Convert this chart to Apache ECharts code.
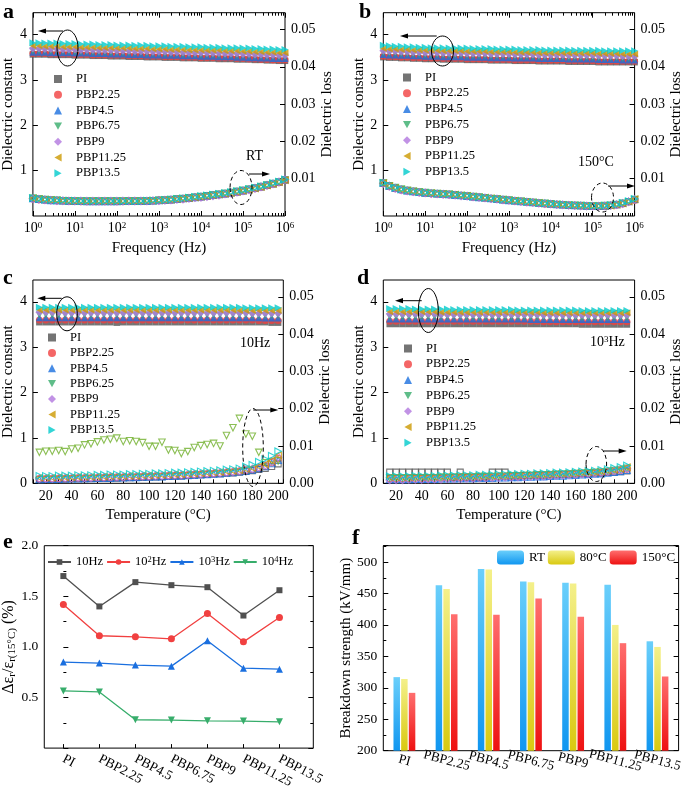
<!DOCTYPE html>
<html><head><meta charset="utf-8">
<script src="https://cdn.jsdelivr.net/npm/echarts@6/dist/echarts.min.js"></script>
<style>html,body{margin:0;padding:0;background:#fff}#c{width:685px;height:791px}</style>
</head><body><div id="c"></div>
<script>
// ---------------- DATA ----------------
const namesAB = ['PI','PBP2.25','PBP4.5','PBP6.75','PBP9','PBP11.25','PBP13.5'];
const namesCD = ['PI','PBP2.25','PBP4.5','PBP6.25','PBP9','PBP11.25','PBP13.5'];
const freqHz = [1,1.39,1.93,2.68,3.73,5.18,7.2,10,13.9,19.3,26.8,37.3,51.8,72,100,139,193,268,373,518,720,1000,1390,1930,2680,3730,5180,7200,10000,13900,19300,26800,37300,51800,72000,100000,139000,193000,268000,373000,518000,720000,1000000];
const freqMajor = [1,10,100,1000,10000,100000,1000000];
const tempC = [15,20,25,30,35,40,45,50,55,60,65,70,75,80,85,90,95,100,105,110,115,120,125,130,135,140,145,150,155,160,165,170,175,180,185,190,195,200];

// panel a : RT, dielectric constant
const aPI    = [3.56,3.56,3.56,3.55,3.55,3.55,3.55,3.54,3.54,3.54,3.53,3.53,3.53,3.52,3.52,3.52,3.51,3.51,3.51,3.50,3.50,3.50,3.49,3.49,3.49,3.48,3.48,3.48,3.47,3.47,3.47,3.46,3.46,3.46,3.45,3.45,3.45,3.44,3.44,3.43,3.43,3.42,3.42];
const aP225  = [3.58,3.58,3.58,3.57,3.57,3.57,3.57,3.56,3.56,3.56,3.55,3.55,3.55,3.54,3.54,3.54,3.53,3.53,3.53,3.52,3.52,3.52,3.51,3.51,3.51,3.50,3.50,3.50,3.49,3.49,3.49,3.48,3.48,3.48,3.47,3.47,3.46,3.46,3.45,3.45,3.44,3.44,3.44];
const aP45   = [3.61,3.61,3.61,3.60,3.60,3.60,3.60,3.59,3.59,3.59,3.58,3.58,3.58,3.57,3.57,3.57,3.56,3.56,3.56,3.55,3.55,3.55,3.54,3.54,3.54,3.53,3.53,3.53,3.52,3.52,3.52,3.51,3.51,3.51,3.50,3.50,3.49,3.49,3.48,3.48,3.47,3.47,3.47];
const aP675  = [3.64,3.64,3.64,3.63,3.63,3.63,3.63,3.62,3.62,3.62,3.61,3.61,3.61,3.60,3.60,3.60,3.59,3.59,3.59,3.58,3.58,3.58,3.57,3.57,3.57,3.56,3.56,3.56,3.55,3.55,3.55,3.54,3.54,3.54,3.53,3.53,3.53,3.52,3.52,3.51,3.51,3.50,3.50];
const aP9    = [3.69,3.69,3.68,3.68,3.68,3.67,3.67,3.67,3.66,3.66,3.66,3.65,3.65,3.65,3.64,3.64,3.64,3.63,3.63,3.63,3.62,3.62,3.62,3.61,3.61,3.61,3.60,3.60,3.60,3.59,3.59,3.59,3.58,3.58,3.58,3.57,3.57,3.56,3.56,3.55,3.55,3.54,3.54];
const aP1125 = [3.75,3.75,3.74,3.74,3.74,3.73,3.73,3.73,3.72,3.72,3.72,3.71,3.71,3.71,3.70,3.70,3.70,3.69,3.69,3.69,3.68,3.68,3.68,3.67,3.67,3.67,3.66,3.66,3.66,3.65,3.65,3.65,3.64,3.64,3.64,3.63,3.63,3.62,3.62,3.61,3.61,3.60,3.60];
const aP135  = [3.82,3.82,3.81,3.81,3.81,3.80,3.80,3.80,3.79,3.79,3.79,3.78,3.78,3.78,3.77,3.77,3.77,3.76,3.76,3.76,3.75,3.75,3.75,3.74,3.74,3.74,3.73,3.73,3.73,3.72,3.72,3.72,3.71,3.71,3.71,3.70,3.70,3.69,3.69,3.68,3.68,3.67,3.67];
// panel a : RT, dielectric loss
const aLPI    = [.0047,.0045,.0044,.0043,.0042,.0041,.0041,.0040,.0040,.0040,.0040,.0040,.0040,.0040,.0040,.0040,.0040,.0040,.0040,.0041,.0041,.0042,.0043,.0044,.0045,.0047,.0048,.0050,.0052,.0054,.0056,.0058,.0060,.0062,.0065,.0068,.0071,.0075,.0078,.0082,.0086,.0091,.0097];
const aLP225  = [.0046,.0044,.0043,.0042,.0041,.0041,.0040,.0040,.0039,.0039,.0039,.0039,.0039,.0039,.0039,.0039,.0040,.0040,.0040,.0040,.0041,.0042,.0042,.0043,.0045,.0046,.0048,.0050,.0051,.0053,.0055,.0057,.0059,.0062,.0064,.0067,.0071,.0074,.0078,.0082,.0086,.0090,.0096];
const aLP45   = [.0047,.0045,.0044,.0042,.0042,.0041,.0040,.0040,.0040,.0039,.0039,.0039,.0039,.0039,.0039,.0040,.0040,.0040,.0040,.0040,.0041,.0042,.0043,.0044,.0045,.0047,.0048,.0050,.0052,.0054,.0056,.0058,.0060,.0063,.0065,.0068,.0071,.0075,.0079,.0083,.0087,.0092,.0097];
const aLP675  = [.0048,.0046,.0044,.0043,.0042,.0041,.0041,.0040,.0040,.0040,.0040,.0040,.0040,.0040,.0040,.0040,.0040,.0040,.0040,.0041,.0041,.0042,.0043,.0044,.0046,.0047,.0049,.0050,.0052,.0054,.0056,.0058,.0061,.0063,.0066,.0069,.0072,.0075,.0079,.0083,.0087,.0091,.0096];
const aLP9    = [.0046,.0045,.0043,.0042,.0041,.0041,.0040,.0040,.0040,.0040,.0040,.0040,.0040,.0040,.0040,.0040,.0040,.0040,.0040,.0040,.0041,.0041,.0042,.0043,.0044,.0045,.0047,.0049,.0050,.0052,.0054,.0056,.0059,.0061,.0064,.0067,.0070,.0074,.0078,.0082,.0086,.0091,.0097];
const aLP1125 = [.0047,.0045,.0044,.0043,.0042,.0041,.0040,.0040,.0040,.0040,.0040,.0040,.0040,.0040,.0040,.0040,.0040,.0040,.0040,.0041,.0041,.0042,.0043,.0044,.0045,.0047,.0048,.0050,.0052,.0054,.0056,.0058,.0060,.0062,.0065,.0068,.0071,.0074,.0078,.0082,.0086,.0091,.0096];
const aLP135  = [.0048,.0046,.0044,.0043,.0042,.0042,.0041,.0041,.0040,.0040,.0040,.0040,.0040,.0040,.0040,.0040,.0040,.0040,.0040,.0041,.0042,.0042,.0043,.0044,.0046,.0047,.0049,.0051,.0053,.0055,.0057,.0059,.0061,.0064,.0066,.0069,.0072,.0076,.0079,.0083,.0088,.0092,.0098];

// panel b : 150 °C, dielectric constant
const bPI    = [3.50,3.49,3.49,3.48,3.48,3.47,3.47,3.46,3.46,3.46,3.45,3.45,3.45,3.45,3.44,3.44,3.44,3.44,3.43,3.43,3.43,3.43,3.42,3.42,3.42,3.42,3.41,3.41,3.41,3.41,3.41,3.40,3.40,3.40,3.40,3.40,3.39,3.39,3.39,3.39,3.39,3.39,3.39];
const bP225  = [3.52,3.51,3.51,3.50,3.50,3.49,3.49,3.48,3.48,3.48,3.47,3.47,3.47,3.47,3.46,3.46,3.46,3.46,3.45,3.45,3.45,3.45,3.44,3.44,3.44,3.44,3.43,3.43,3.43,3.43,3.43,3.42,3.42,3.42,3.42,3.42,3.41,3.41,3.41,3.41,3.41,3.41,3.41];
const bP45   = [3.56,3.55,3.55,3.54,3.54,3.53,3.53,3.52,3.52,3.52,3.51,3.51,3.51,3.51,3.50,3.50,3.50,3.50,3.49,3.49,3.49,3.49,3.48,3.48,3.48,3.48,3.47,3.47,3.47,3.47,3.47,3.46,3.46,3.46,3.46,3.46,3.45,3.45,3.45,3.45,3.44,3.44,3.44];
const bP675  = [3.59,3.58,3.58,3.57,3.57,3.56,3.56,3.55,3.55,3.55,3.54,3.54,3.54,3.54,3.53,3.53,3.53,3.53,3.52,3.52,3.52,3.52,3.51,3.51,3.51,3.51,3.50,3.50,3.50,3.50,3.50,3.49,3.49,3.49,3.49,3.49,3.48,3.48,3.48,3.48,3.47,3.47,3.47];
const bP9    = [3.64,3.63,3.63,3.62,3.62,3.61,3.61,3.60,3.60,3.60,3.59,3.59,3.59,3.59,3.58,3.58,3.58,3.58,3.57,3.57,3.57,3.57,3.56,3.56,3.56,3.56,3.55,3.55,3.55,3.55,3.55,3.54,3.54,3.54,3.54,3.54,3.53,3.53,3.53,3.53,3.52,3.52,3.52];
const bP1125 = [3.69,3.68,3.68,3.67,3.67,3.66,3.66,3.65,3.65,3.65,3.64,3.64,3.64,3.64,3.63,3.63,3.63,3.63,3.62,3.62,3.62,3.62,3.61,3.61,3.61,3.61,3.60,3.60,3.60,3.60,3.60,3.59,3.59,3.59,3.59,3.59,3.58,3.58,3.58,3.58,3.57,3.57,3.57];
const bP135  = [3.76,3.75,3.74,3.74,3.73,3.73,3.72,3.72,3.71,3.71,3.71,3.70,3.70,3.70,3.70,3.69,3.69,3.69,3.69,3.68,3.68,3.68,3.68,3.67,3.67,3.67,3.67,3.66,3.66,3.66,3.66,3.66,3.65,3.65,3.65,3.65,3.65,3.64,3.64,3.64,3.64,3.64,3.64];
// panel b : 150 °C, dielectric loss
const bLPI    = [.0088,.0080,.0075,.0071,.0068,.0066,.0064,.0062,.0061,.0060,.0059,.0058,.0057,.0055,.0053,.0052,.0050,.0049,.0047,.0045,.0044,.0042,.0041,.0039,.0038,.0036,.0035,.0033,.0032,.0031,.0030,.0029,.0028,.0028,.0027,.0027,.0026,.0027,.0028,.0030,.0034,.0039,.0044];
const bLP225  = [.0087,.0080,.0074,.0070,.0068,.0065,.0063,.0062,.0060,.0059,.0058,.0057,.0056,.0055,.0053,.0051,.0050,.0048,.0047,.0045,.0043,.0042,.0040,.0039,.0037,.0036,.0034,.0033,.0032,.0031,.0030,.0029,.0028,.0027,.0027,.0026,.0026,.0027,.0028,.0030,.0033,.0038,.0043];
const bLP45   = [.0089,.0081,.0075,.0071,.0068,.0066,.0064,.0062,.0061,.0060,.0059,.0058,.0056,.0055,.0054,.0052,.0050,.0049,.0047,.0046,.0044,.0042,.0041,.0039,.0038,.0036,.0035,.0034,.0032,.0031,.0030,.0029,.0028,.0028,.0027,.0027,.0027,.0027,.0029,.0031,.0034,.0039,.0045];
const bLP675  = [.0088,.0081,.0076,.0072,.0069,.0066,.0064,.0063,.0061,.0060,.0059,.0058,.0057,.0055,.0054,.0052,.0051,.0049,.0047,.0046,.0044,.0043,.0041,.0040,.0038,.0037,.0035,.0034,.0033,.0031,.0030,.0029,.0029,.0028,.0027,.0027,.0027,.0028,.0029,.0031,.0034,.0038,.0044];
const bLP9    = [.0087,.0079,.0074,.0070,.0067,.0065,.0063,.0062,.0060,.0059,.0058,.0057,.0056,.0054,.0053,.0051,.0050,.0048,.0046,.0045,.0043,.0042,.0040,.0039,.0037,.0036,.0034,.0033,.0032,.0031,.0030,.0029,.0028,.0027,.0027,.0026,.0026,.0027,.0028,.0030,.0033,.0038,.0044];
const bLP1125 = [.0088,.0080,.0075,.0071,.0068,.0066,.0064,.0062,.0061,.0060,.0059,.0058,.0057,.0055,.0054,.0052,.0050,.0049,.0047,.0045,.0044,.0042,.0041,.0039,.0038,.0036,.0035,.0033,.0032,.0031,.0030,.0029,.0028,.0028,.0027,.0027,.0027,.0027,.0028,.0031,.0034,.0039,.0045];
const bLP135  = [.0089,.0081,.0076,.0072,.0069,.0066,.0064,.0063,.0062,.0060,.0059,.0058,.0057,.0056,.0054,.0052,.0051,.0049,.0048,.0046,.0044,.0043,.0041,.0040,.0038,.0037,.0035,.0034,.0033,.0032,.0031,.0030,.0029,.0028,.0028,.0027,.0027,.0028,.0029,.0031,.0035,.0040,.0046];

// panel c : 10 Hz, dielectric constant vs temperature
const cPI    = [3.55,3.55,3.55,3.55,3.55,3.55,3.55,3.55,3.55,3.55,3.55,3.55,3.54,3.55,3.55,3.55,3.55,3.55,3.55,3.55,3.55,3.55,3.55,3.55,3.55,3.55,3.55,3.55,3.55,3.55,3.55,3.55,3.55,3.55,3.55,3.55,3.54,3.54];
const cP225  = [3.60,3.60,3.60,3.60,3.60,3.60,3.60,3.60,3.60,3.60,3.60,3.60,3.60,3.60,3.60,3.60,3.60,3.60,3.60,3.60,3.60,3.60,3.60,3.60,3.60,3.60,3.60,3.60,3.60,3.60,3.60,3.60,3.60,3.60,3.59,3.59,3.59,3.59];
const cP45   = [3.65,3.65,3.65,3.65,3.65,3.65,3.65,3.65,3.65,3.65,3.65,3.65,3.65,3.65,3.65,3.65,3.65,3.65,3.65,3.65,3.65,3.65,3.65,3.65,3.65,3.65,3.65,3.65,3.65,3.65,3.65,3.65,3.65,3.65,3.65,3.64,3.64,3.64];
const cP625  = [3.71,3.71,3.71,3.71,3.71,3.71,3.71,3.71,3.71,3.71,3.71,3.71,3.71,3.71,3.71,3.71,3.71,3.71,3.71,3.71,3.71,3.71,3.71,3.71,3.71,3.71,3.71,3.71,3.71,3.71,3.71,3.71,3.71,3.70,3.70,3.70,3.70,3.70];
const cP9    = [3.77,3.77,3.77,3.77,3.76,3.76,3.76,3.76,3.76,3.76,3.76,3.76,3.76,3.76,3.76,3.76,3.76,3.76,3.76,3.76,3.76,3.76,3.76,3.76,3.76,3.76,3.76,3.76,3.76,3.76,3.76,3.76,3.76,3.75,3.75,3.75,3.75,3.75];
const cP1125 = [3.82,3.82,3.82,3.82,3.82,3.82,3.82,3.82,3.82,3.82,3.82,3.82,3.82,3.82,3.82,3.82,3.82,3.82,3.82,3.82,3.82,3.82,3.82,3.82,3.82,3.82,3.82,3.82,3.82,3.82,3.82,3.81,3.81,3.81,3.81,3.81,3.81,3.81];
const cP135  = [3.88,3.88,3.88,3.88,3.88,3.88,3.88,3.88,3.88,3.88,3.88,3.88,3.88,3.88,3.88,3.88,3.88,3.88,3.88,3.88,3.88,3.88,3.88,3.88,3.88,3.88,3.88,3.88,3.88,3.88,3.88,3.88,3.87,3.87,3.87,3.87,3.87,3.87];
// panel c : 10 Hz, dielectric loss
const cLPI    = [.0010,.0010,.0011,.0011,.0011,.0012,.0012,.0012,.0013,.0013,.0014,.0014,.0014,.0015,.0015,.0016,.0016,.0017,.0017,.0018,.0019,.0019,.0020,.0021,.0022,.0023,.0024,.0025,.0026,.0027,.0028,.0030,.0032,.0034,.0037,.0040,.0045,.0052];
const cLP225  = [.0012,.0012,.0012,.0013,.0013,.0013,.0014,.0014,.0014,.0015,.0015,.0016,.0016,.0016,.0017,.0017,.0018,.0018,.0019,.0019,.0020,.0021,.0021,.0022,.0023,.0024,.0025,.0026,.0027,.0029,.0030,.0032,.0034,.0037,.0041,.0046,.0055,.0066];
const cLP45   = [.0010,.0011,.0011,.0011,.0012,.0012,.0012,.0013,.0013,.0014,.0014,.0014,.0015,.0015,.0016,.0016,.0017,.0017,.0018,.0018,.0019,.0020,.0020,.0021,.0022,.0023,.0024,.0025,.0026,.0028,.0029,.0031,.0033,.0036,.0040,.0045,.0053,.0062];
const cLP625  = [.0083,.0086,.0086,.0088,.0085,.0092,.0094,.0103,.0106,.0111,.0116,.0118,.0121,.0112,.0114,.0112,.0109,.0099,.0099,.0110,.0089,.0088,.0080,.0085,.0096,.0101,.0104,.0107,.0100,.0128,.0149,.0174,.0132,.0126,.0083,.0055,.0058,.0060];
const cLP9    = [.0013,.0013,.0013,.0014,.0014,.0014,.0015,.0015,.0015,.0016,.0016,.0017,.0017,.0017,.0018,.0018,.0019,.0019,.0020,.0020,.0021,.0022,.0022,.0023,.0024,.0025,.0026,.0027,.0028,.0030,.0031,.0033,.0036,.0039,.0043,.0049,.0058,.0070];
const cLP1125 = [.0015,.0015,.0015,.0016,.0016,.0016,.0017,.0017,.0017,.0018,.0018,.0019,.0019,.0019,.0020,.0020,.0021,.0021,.0022,.0022,.0023,.0024,.0024,.0025,.0026,.0027,.0028,.0029,.0030,.0032,.0033,.0035,.0038,.0041,.0045,.0051,.0061,.0075];
const cLP135  = [.0020,.0020,.0020,.0021,.0021,.0021,.0022,.0022,.0022,.0023,.0023,.0024,.0024,.0024,.0025,.0025,.0026,.0026,.0027,.0027,.0028,.0029,.0029,.0030,.0031,.0032,.0033,.0034,.0035,.0037,.0038,.0040,.0045,.0050,.0058,.0065,.0074,.0086];

// panel d : 10^3 Hz, dielectric constant vs temperature
const dPI    = [3.51,3.51,3.51,3.51,3.51,3.51,3.51,3.51,3.51,3.51,3.51,3.51,3.51,3.51,3.51,3.51,3.51,3.51,3.51,3.51,3.51,3.51,3.51,3.51,3.51,3.51,3.51,3.51,3.51,3.51,3.50,3.50,3.50,3.50,3.50,3.50,3.50,3.50];
const dP225  = [3.57,3.57,3.57,3.57,3.57,3.57,3.57,3.57,3.57,3.57,3.57,3.57,3.57,3.57,3.57,3.57,3.57,3.57,3.57,3.57,3.57,3.57,3.57,3.57,3.56,3.56,3.56,3.56,3.56,3.56,3.56,3.56,3.56,3.56,3.56,3.56,3.56,3.56];
const dP45   = [3.62,3.62,3.62,3.62,3.62,3.62,3.62,3.62,3.62,3.62,3.62,3.62,3.62,3.62,3.62,3.62,3.62,3.62,3.62,3.62,3.62,3.62,3.61,3.61,3.61,3.61,3.61,3.61,3.61,3.61,3.61,3.61,3.61,3.61,3.61,3.61,3.61,3.61];
const dP625  = [3.67,3.67,3.67,3.67,3.67,3.67,3.67,3.67,3.67,3.67,3.67,3.67,3.66,3.66,3.66,3.66,3.66,3.66,3.66,3.66,3.66,3.66,3.66,3.66,3.66,3.66,3.66,3.66,3.65,3.65,3.65,3.65,3.65,3.65,3.65,3.65,3.65,3.65];
const dP9    = [3.73,3.73,3.73,3.73,3.73,3.73,3.73,3.73,3.72,3.72,3.72,3.72,3.72,3.72,3.72,3.72,3.72,3.72,3.72,3.72,3.72,3.72,3.72,3.72,3.71,3.71,3.71,3.71,3.71,3.71,3.71,3.71,3.71,3.71,3.71,3.71,3.71,3.71];
const dP1125 = [3.78,3.78,3.78,3.78,3.78,3.78,3.78,3.78,3.77,3.77,3.77,3.77,3.77,3.77,3.77,3.77,3.77,3.77,3.77,3.77,3.77,3.77,3.77,3.77,3.76,3.76,3.76,3.76,3.76,3.76,3.76,3.76,3.76,3.76,3.76,3.76,3.76,3.76];
const dP135  = [3.85,3.85,3.85,3.85,3.84,3.84,3.84,3.84,3.84,3.84,3.83,3.83,3.83,3.83,3.83,3.83,3.83,3.83,3.83,3.83,3.82,3.82,3.82,3.82,3.82,3.82,3.82,3.82,3.82,3.82,3.81,3.81,3.81,3.81,3.81,3.81,3.81,3.81];
// panel d : 10^3 Hz, dielectric loss
const dLPI    = [.0030,.0030,.0030,.0030,.0030,.0030,.0030,.0030,.0030,.0030,.0016,.0030,.0016,.0015,.0016,.0017,.0030,.0030,.0030,.0020,.0020,.0021,.0021,.0022,.0022,.0023,.0023,.0024,.0024,.0025,.0026,.0026,.0027,.0028,.0029,.0030,.0031,.0033];
const dLP225  = [.0013,.0013,.0013,.0013,.0014,.0014,.0014,.0014,.0015,.0015,.0015,.0016,.0016,.0016,.0017,.0017,.0017,.0018,.0018,.0019,.0019,.0020,.0020,.0021,.0021,.0022,.0023,.0023,.0024,.0025,.0026,.0027,.0028,.0029,.0031,.0033,.0035,.0038];
const dLP45   = [.0010,.0010,.0010,.0010,.0011,.0011,.0011,.0011,.0012,.0012,.0012,.0013,.0013,.0013,.0014,.0014,.0014,.0015,.0015,.0016,.0016,.0017,.0017,.0018,.0018,.0019,.0020,.0020,.0021,.0022,.0023,.0024,.0025,.0026,.0028,.0030,.0032,.0035];
const dLP625  = [.0014,.0014,.0014,.0014,.0015,.0015,.0015,.0015,.0016,.0016,.0016,.0017,.0017,.0017,.0018,.0018,.0018,.0019,.0019,.0020,.0020,.0021,.0021,.0022,.0022,.0023,.0024,.0024,.0025,.0026,.0027,.0028,.0029,.0030,.0032,.0034,.0037,.0040];
const dLP9    = [.0009,.0009,.0009,.0010,.0010,.0010,.0011,.0011,.0011,.0012,.0012,.0012,.0013,.0013,.0014,.0014,.0015,.0015,.0016,.0016,.0017,.0017,.0018,.0019,.0019,.0020,.0021,.0022,.0023,.0024,.0025,.0026,.0027,.0029,.0031,.0033,.0036,.0039];
const dLP1125 = [.0016,.0016,.0016,.0016,.0017,.0017,.0017,.0017,.0018,.0018,.0018,.0019,.0019,.0019,.0020,.0020,.0020,.0021,.0021,.0022,.0022,.0023,.0023,.0024,.0024,.0025,.0026,.0026,.0027,.0028,.0029,.0030,.0031,.0032,.0034,.0036,.0039,.0043];
const dLP135  = [.0019,.0019,.0019,.0019,.0020,.0020,.0020,.0020,.0021,.0021,.0021,.0022,.0022,.0022,.0023,.0023,.0023,.0024,.0024,.0025,.0025,.0026,.0026,.0027,.0027,.0028,.0029,.0029,.0030,.0031,.0032,.0033,.0034,.0036,.0038,.0041,.0044,.0048];

// panel e
const catsE = ['PI','PBP2.25','PBP4.5','PBP6.75','PBP9','PBP11.25','PBP13.5'];
const eNames = ['10Hz','10^2Hz','10^3Hz','10^4Hz'];
const eLegendText = ['10Hz','10{sup|2}Hz','10{sup|3}Hz','10{sup|4}Hz'];
const e10Hz   = [1.70,1.40,1.64,1.61,1.59,1.31,1.56];
const e100Hz  = [1.42,1.11,1.10,1.08,1.33,1.05,1.29];
const e1kHz   = [0.85,0.84,0.82,0.81,1.06,0.79,0.78];
const e10kHz  = [0.565,0.555,0.28,0.277,0.27,0.267,0.26];

// panel f
const catsF = ['PI','PBP2.25','PBP4.5','PBP6.75','PBP9','PBP11.25','PBP13.5'];
const fNames = ['RT','80°C','150°C'];
const fRT   = [317,463,489,469,467,464,374];
const f80   = [314,457,488,468,466,400,365];
const f150  = [292,417,416,442,413,371,318];

// ---------------- STYLE ----------------
const FONT = '"Liberation Serif","Times New Roman","DejaVu Serif",serif';
const BLK = '#000';
const colors = ['#515151','#F14040','#1A6FDF','#37AD6B','#B177DE','#CC9900','#00CBCC'];
const syms = [['rect',0,6.5],['circle',0,7],['triangle',0,7],['triangle',180,7],['diamond',0,8],['triangle',90,7],['triangle',-90,7]];
const legendIcons = ['rect','circle','triangle','path://M0,0L10,0L5,9Z','diamond','path://M9,0L9,10L0,5Z','path://M0,0L0,10L9,5Z'];

const chart = echarts.init(document.getElementById('c'), null, {renderer:'canvas', width:685, height:791});

const gridBox = [
  {left:31, top:12.7, width:254, height:203.3},
  {left:383.3, top:12.7, width:253.3, height:203.3},
  {left:31.7, top:280, width:251.6, height:203.3},
  {left:383.3, top:280, width:253.3, height:203.3},
  {left:43, top:545.7, width:270.3, height:205},
  {left:383.3, top:545.7, width:298.4, height:205}
];
const grid = gridBox.map(g => Object.assign({show:true, borderColor:BLK, borderWidth:1, backgroundColor:'transparent'}, g));

const nameStyle = {fontFamily:FONT, fontSize:15, color:BLK};
const lblStyle = (fs) => ({fontFamily:FONT, fontSize:fs, color:BLK});
const tick = (len, extra) => Object.assign({show:true, inside:true, length:len, lineStyle:{color:BLK, width:1}}, extra||{});

const minorFreq = [];
for (let d = 1; d < 1e6; d *= 10) for (let m = 2; m <= 9; m++) minorFreq.push(m*d);

const xAxis = [];
function addLogAxes(gi) {
  const base = {gridIndex:gi, type:'log', logBase:10, min:1, max:1e6, axisLine:{show:false}, splitLine:{show:false}};
  xAxis.push(Object.assign({}, base, {position:'bottom',
    axisTick:tick(5,{customValues:freqMajor}),
    axisLabel:Object.assign(lblStyle(14), {customValues:freqMajor, margin:5,
      formatter: v => '10{sup|' + Math.round(Math.log10(v)) + '}',
      rich:{sup:{fontFamily:FONT, fontSize:9, color:BLK, verticalAlign:'top', padding:[0,0,6,0]}}}),
    name:'Frequency (Hz)', nameLocation:'middle', nameGap:25, nameTextStyle:nameStyle}));
  xAxis.push(Object.assign({}, base, {position:'bottom', axisTick:tick(3,{customValues:minorFreq}), axisLabel:{show:false}}));
  xAxis.push(Object.assign({}, base, {position:'top', axisTick:tick(5,{customValues:freqMajor}), axisLabel:{show:false}}));
  xAxis.push(Object.assign({}, base, {position:'top', axisTick:tick(3,{customValues:minorFreq}), axisLabel:{show:false}}));
}
addLogAxes(0); // 0-3
addLogAxes(1); // 4-7
function tempAxis(gi, max) {
  return {gridIndex:gi, type:'value', min:10, max:max, interval:10, axisLine:{show:false}, splitLine:{show:false},
    axisTick:tick(4), axisLabel:Object.assign(lblStyle(14), {margin:6, formatter: v => (v % 20 === 0 ? String(v) : '')}),
    name:'Temperature (°C)', nameLocation:'middle', nameGap:24, nameTextStyle:nameStyle};
}
xAxis.push(tempAxis(2, 204)); // 8
xAxis.push(tempAxis(3, 206)); // 9
xAxis.push({gridIndex:4, type:'value', min:-0.53, max:6.94, axisLine:{show:false}, splitLine:{show:false},
  axisTick:tick(4,{customValues:[0,1,2,3,4,5,6]}),
  axisLabel:Object.assign(lblStyle(13.5), {customValues:[0,1,2,3,4,5,6], rotate:-28, margin:10, formatter: v => catsE[Math.round(v)]})}); // 10
xAxis.push({gridIndex:5, type:'category', data:catsF, axisLine:{show:false}, splitLine:{show:false},
  axisTick:{show:false}, axisLabel:Object.assign(lblStyle(13.5), {rotate:-15, margin:10, align:'center', interval:0})}); // 11

const yAxis = [];
function dielAxes(gi, hideMin, nameGapR) {
  yAxis.push({gridIndex:gi, type:'value', min:0, max:4.48, interval:1, position:'left', axisLine:{show:false}, splitLine:{show:false},
    axisTick:tick(5), axisLabel:Object.assign(lblStyle(14), {margin:6, showMinLabel:!hideMin, showMaxLabel:false}),
    name:'Dielectric constant', nameLocation:'middle', nameGap:12, nameRotate:90, nameTextStyle:nameStyle});
  yAxis.push({gridIndex:gi, type:'value', min:0, max:0.0545, interval:0.01, position:'right', axisLine:{show:false}, splitLine:{show:false},
    axisTick:tick(5), axisLabel:Object.assign(lblStyle(14), {margin:6, showMinLabel:!hideMin, showMaxLabel:false, formatter: v => v.toFixed(2)}),
    name:'Dielectric loss', nameLocation:'middle', nameGap:nameGapR, nameRotate:90, nameTextStyle:nameStyle});
}
dielAxes(0, true, 28);  // 0,1
dielAxes(1, true, 29);  // 2,3
dielAxes(2, false, 29); // 4,5
dielAxes(3, false, 29); // 6,7
yAxis.push({gridIndex:4, type:'value', min:0, max:2, interval:0.5, axisLine:{show:false}, splitLine:{show:false},
  axisTick:tick(5), minorTick:{show:true, splitNumber:2, length:3, lineStyle:{color:BLK}},
  axisLabel:Object.assign(lblStyle(13.5), {margin:6, showMinLabel:false, formatter: v => v.toFixed(1)}),
  name:'{n|Δε}{s|r}{n|/ε}{s|r(15°C)}{n| (%)}', nameLocation:'middle', nameGap:24, nameRotate:90,
  nameTextStyle:{fontFamily:FONT, color:BLK, rich:{n:{fontFamily:FONT, fontSize:16, color:BLK}, s:{fontFamily:FONT, fontSize:11, color:BLK, padding:[6,0,0,0]}}}}); // 8
yAxis.push({gridIndex:4, type:'value', min:0, max:2, interval:0.5, position:'right', axisLine:{show:false}, splitLine:{show:false},
  axisTick:tick(5), minorTick:{show:true, splitNumber:2, length:3, lineStyle:{color:BLK}}, axisLabel:{show:false}}); // 9
yAxis.push({gridIndex:5, type:'value', min:200, max:526, interval:50, axisLine:{show:false}, splitLine:{show:false},
  axisTick:tick(5), minorTick:{show:true, splitNumber:2, length:3, lineStyle:{color:BLK}},
  axisLabel:Object.assign(lblStyle(13.5), {margin:6, showMaxLabel:false}),
  name:'Breakdown strength (kV/mm)', nameLocation:'middle', nameGap:23, nameRotate:90, nameTextStyle:nameStyle}); // 10
yAxis.push({gridIndex:5, type:'value', min:200, max:526, interval:50, position:'right', axisLine:{show:false}, splitLine:{show:false},
  axisTick:tick(5), minorTick:{show:true, splitNumber:2, length:3, lineStyle:{color:BLK}}, axisLabel:{show:false}}); // 11

// ---------------- SERIES ----------------
const series = [];
function scat(name, xs, ys, xi, yi, i, hollow, colorOverride) {
  const c = colorOverride || colors[i];
  series.push({type:'scatter', name: hollow ? name + ' (loss)' : name, xAxisIndex:xi, yAxisIndex:yi,
    data: xs.map((x,k) => [x, ys[k]]), symbol:syms[i][0], symbolRotate:syms[i][1],
    symbolSize: hollow ? syms[i][2]-0.5 : syms[i][2], silent:true,
    itemStyle: hollow ? {color:'rgba(255,255,255,0)', borderColor:c, borderWidth:1.1} : {color:c}});
}
const aConst = [aPI,aP225,aP45,aP675,aP9,aP1125,aP135], aLoss = [aLPI,aLP225,aLP45,aLP675,aLP9,aLP1125,aLP135];
const bConst = [bPI,bP225,bP45,bP675,bP9,bP1125,bP135], bLoss = [bLPI,bLP225,bLP45,bLP675,bLP9,bLP1125,bLP135];
const cConst = [cPI,cP225,cP45,cP625,cP9,cP1125,cP135], cLoss = [cLPI,cLP225,cLP45,cLP625,cLP9,cLP1125,cLP135];
const dConst = [dPI,dP225,dP45,dP625,dP9,dP1125,dP135], dLoss = [dLPI,dLP225,dLP45,dLP625,dLP9,dLP1125,dLP135];
for (let i = 0; i < 7; i++) scat(namesAB[i], freqHz, aConst[i], 0, 0, i, false);
for (let i = 0; i < 7; i++) scat('a'+namesAB[i], freqHz, aLoss[i], 0, 1, i, true);
for (let i = 0; i < 7; i++) scat(namesAB[i], freqHz, bConst[i], 4, 2, i, false);
for (let i = 0; i < 7; i++) scat('b'+namesAB[i], freqHz, bLoss[i], 4, 3, i, true);
for (let i = 0; i < 7; i++) scat(namesCD[i], tempC, cConst[i], 8, 4, i, false);
for (let i = 0; i < 7; i++) scat('c'+namesCD[i], tempC, cLoss[i], 8, 5, i, true, i === 3 ? '#6FAF2A' : null);
for (let i = 0; i < 7; i++) scat(namesCD[i], tempC, dConst[i], 9, 6, i, false);
for (let i = 0; i < 7; i++) scat('d'+namesCD[i], tempC, dLoss[i], 9, 7, i, true);

const eData = [e10Hz, e100Hz, e1kHz, e10kHz];
const eColors = ['#505050','#F14040','#1A6FDF','#37AD6B'];
const eSyms = [['rect',0,6],['circle',0,7],['triangle',0,7],['triangle',180,7]];
eData.forEach((arr, j) => series.push({type:'line', name:eNames[j], xAxisIndex:10, yAxisIndex:8,
  data: arr.map((v,k) => [k, v]), symbol:eSyms[j][0], symbolRotate:eSyms[j][1], symbolSize:eSyms[j][2],
  showSymbol:true, silent:true, lineStyle:{color:eColors[j], width:1.3}, itemStyle:{color:eColors[j]}}));

const G = echarts.graphic.LinearGradient;
const fFill = [
  new G(0,0,0,1,[{offset:0,color:'#6ACFFB'},{offset:1,color:'#1096F0'}]),
  new G(0,0,0,1,[{offset:0,color:'#F4F08A'},{offset:1,color:'#D9C910'}]),
  new G(0,0,0,1,[{offset:0,color:'#FF6E6E'},{offset:1,color:'#EE1111'}])
];
[fRT, f80, f150].forEach((arr, j) => series.push({type:'bar', name:fNames[j], xAxisIndex:11, yAxisIndex:10,
  data: arr, barWidth:6.5, barGap:'18%', silent:true, itemStyle:{color:fFill[j]}}));

// ---------------- LEGENDS ----------------
function scatLegend(names, iconCx, top, gap) {
  return {data:names.map((n,i) => ({name:n, icon:legendIcons[i]})), orient:'vertical', left:iconCx - 4, top, padding:0, itemGap:gap,
    itemWidth:8, itemHeight:8, textStyle:{fontFamily:FONT, fontSize:12.5, color:BLK, padding:[0,0,0,9]}, selectedMode:false};
}
const legend = [
  scatLegend(namesAB, 58, 72.5, 2.7),
  scatLegend(namesAB, 407, 71, 2.7),
  scatLegend(namesCD, 52, 331, 2.4),
  scatLegend(namesCD, 408, 342, 2.7),
  {data:eNames, orient:'horizontal', left:47, top:555, padding:0, itemGap:3, itemWidth:23, itemHeight:7, selectedMode:false,
    formatter: n => eLegendText[eNames.indexOf(n)],
    textStyle:{fontFamily:FONT, fontSize:12.5, color:BLK, rich:{sup:{fontFamily:FONT, fontSize:8.5, color:BLK, verticalAlign:'top', padding:[0,0,5,0]}}}},
  {data:fNames, orient:'horizontal', left:497, top:550.5, padding:0, itemGap:3, itemWidth:27, itemHeight:14, selectedMode:false,
    textStyle:{fontFamily:FONT, fontSize:13, color:BLK}}
];

// ---------------- ANNOTATIONS ----------------
const gfx = [];
function letter(t, x, y) { gfx.push({type:'text', left:x, top:y, style:{text:t, font:'bold 22px ' + FONT, fill:BLK}}); }
letter('a', 3, 1); letter('b', 359, 1); letter('c', 3, 267); letter('d', 357, 267); letter('e', 3, 531); letter('f', 352, 527);
function ell(cx, cy, rx, ry, dashed) {
  gfx.push({type:'ellipse', shape:{cx, cy, rx, ry}, style:{fill:'none', stroke:BLK, lineWidth:1, lineDash: dashed ? [4,3] : null}, z:100});
}
function arrow(x1, y, x2) {
  const d = Math.sign(x2 - x1);
  gfx.push({type:'line', shape:{x1, y1:y, x2:x2 - d*6, y2:y}, style:{stroke:BLK, lineWidth:1}, z:100});
  gfx.push({type:'polygon', shape:{points:[[x2,y],[x2-d*8,y-2.6],[x2-d*8,y+2.6]]}, style:{fill:BLK}, z:100});
}
ell(67.5, 48, 10.5, 18, false); arrow(63, 31, 38);
ell(241, 187.5, 11, 17, true); arrow(249, 174, 270);
ell(442.5, 51, 11, 15, false); arrow(436.7, 36, 400);
ell(602.5, 197.5, 11, 14.5, true); arrow(608, 186, 635);
ell(67, 313.8, 10.3, 17, false); arrow(61.7, 298.3, 37.3);
ell(253, 447.5, 10.3, 39, true); arrow(253.3, 410, 278.3);
ell(428.3, 310.5, 10, 22, false); arrow(421.7, 300.7, 395);
ell(596.3, 464, 10.3, 17.5, true); arrow(603.3, 451, 626.7);
function note(t, x, y, rich) {
  gfx.push({type:'text', left:x, top:y, z:100, style:{text:t, fontFamily:FONT, fontSize:14, fill:BLK,
    rich: rich ? {sup:{fontFamily:FONT, fontSize:9, fill:BLK, verticalAlign:'top', padding:[0,0,6,0]}} : undefined}});
}
note('RT', 246, 149);
note('150°C', 578, 155.5);
note('10Hz', 240, 336.5);
note('10{sup|3}Hz', 590, 335, true);

chart.setOption({animation:false, textStyle:{fontFamily:FONT}, grid, xAxis, yAxis, series, legend, graphic:gfx});
</script>
</body></html>
